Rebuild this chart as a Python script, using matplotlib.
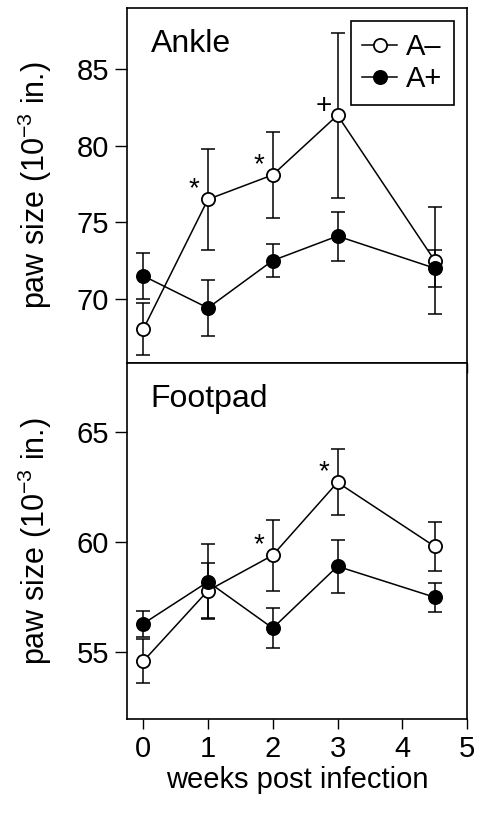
#!/usr/bin/env python
# -*- coding: utf-8 -*-
# Paw swelling (ankle / footpad) after infection, A- vs A+ groups

import matplotlib
matplotlib.use('Agg')
import matplotlib.pyplot as plt

# Data (weeks post infection)
weeks = [0, 1, 2, 3, 4.5]

ankle_neg = [68.0, 76.5, 78.1, 82.0, 72.5]
ankle_neg_err = [1.7, 3.3, 2.8, 5.4, 3.5]
ankle_pos = [71.5, 69.4, 72.5, 74.1, 72.0]
ankle_pos_err = [1.5, 1.85, 1.1, 1.6, 1.2]

foot_neg = [54.6, 57.8, 59.4, 62.7, 59.8]
foot_neg_err = [1.0, 1.25, 1.6, 1.5, 1.1]
foot_pos = [56.3, 58.2, 56.1, 58.9, 57.5]
foot_pos_err = [0.6, 1.7, 0.9, 1.2, 0.65]

# significance marks placed on the A- series (index into weeks, symbol)
ankle_marks = [(1, '*'), (2, '*'), (3, '+')]
foot_marks = [(2, '*'), (3, '*')]

labels = ['A\u2013', 'A+']
xticks = [0, 1, 2, 3, 4, 5]
ankle_yticks = [70, 75, 80, 85]
foot_yticks = [55, 60, 65]

#***********************************************************************
plt.rcParams['font.family'] = ['Liberation Sans', 'DejaVu Sans']
plt.rcParams['mathtext.fontset'] = 'custom'
plt.rcParams['mathtext.rm'] = 'Liberation Sans'
fsize = 21
lw = 1.1
ms = 9.5


def draw_panel(ax, y_neg, e_neg, y_pos, e_pos, marks, name):
	# error bars first, then lines with markers on top
	ax.errorbar(weeks, y_pos, yerr=e_pos, fmt='none', ecolor='k',
				elinewidth=lw, capsize=4.8, capthick=lw, zorder=2)
	ax.errorbar(weeks, y_neg, yerr=e_neg, fmt='none', ecolor='k',
				elinewidth=lw, capsize=4.8, capthick=lw, zorder=2)
	ax.plot(weeks, y_neg, '-o', color='k', lw=lw, ms=ms, mfc='white',
			mec='k', mew=1.3, label=labels[0], zorder=3)
	ax.plot(weeks, y_pos, '-o', color='k', lw=lw, ms=ms, mfc='k',
			mec='k', mew=1.3, label=labels[1], zorder=4)
	for i, s in marks:
		ax.annotate(s, (weeks[i], y_neg[i]), xytext=(-10, 7),
					textcoords='offset points', ha='center', va='center',
					fontsize=fsize - 1)
	ax.text(0.07, 0.90, name, transform=ax.transAxes,
			fontsize=fsize + 2, ha='left', va='center')
	ax.set_xlim(-0.25, 5)
	ax.set_xticks(xticks)
	ax.tick_params(axis='y', direction='out', length=9, width=1, pad=4,
				   labelsize=fsize)
	ax.tick_params(axis='x', direction='out', length=7, width=1, pad=5,
				   labelsize=fsize)
	for sp in ax.spines.values():
		sp.set_linewidth(1.2)
	ax.set_ylabel('paw size (10$^{-3}$ in.)', fontsize=fsize + 1)
	ax.yaxis.set_label_coords(-0.215, 0.5)


fig = plt.figure(figsize=(4.81, 8.14), dpi=100)
ax1 = fig.add_axes([0.264, 0.554, 0.707, 0.436])
ax2 = fig.add_axes([0.264, 0.117, 0.707, 0.437])

draw_panel(ax1, ankle_neg, ankle_neg_err, ankle_pos, ankle_pos_err, ankle_marks, 'Ankle')
ax1.set_ylim(65.8, 89.0)
ax1.set_yticks(ankle_yticks)
ax1.tick_params(axis='x', labelbottom=False)
leg = ax1.legend(loc='upper right', bbox_to_anchor=(0.962, 0.963), fontsize=fsize,
				 handlelength=1.2, handletextpad=0.3, labelspacing=0.15,
				 borderpad=0.4, fancybox=False, edgecolor='k', framealpha=1,
				 borderaxespad=0)
leg.get_frame().set_linewidth(1.2)

draw_panel(ax2, foot_neg, foot_neg_err, foot_pos, foot_pos_err, foot_marks, 'Footpad')
ax2.set_ylim(52.0, 68.1)
ax2.set_yticks(foot_yticks)
ax2.set_xlabel('weeks post infection', fontsize=fsize, labelpad=2)

fig.savefig('out.png', dpi=100)
